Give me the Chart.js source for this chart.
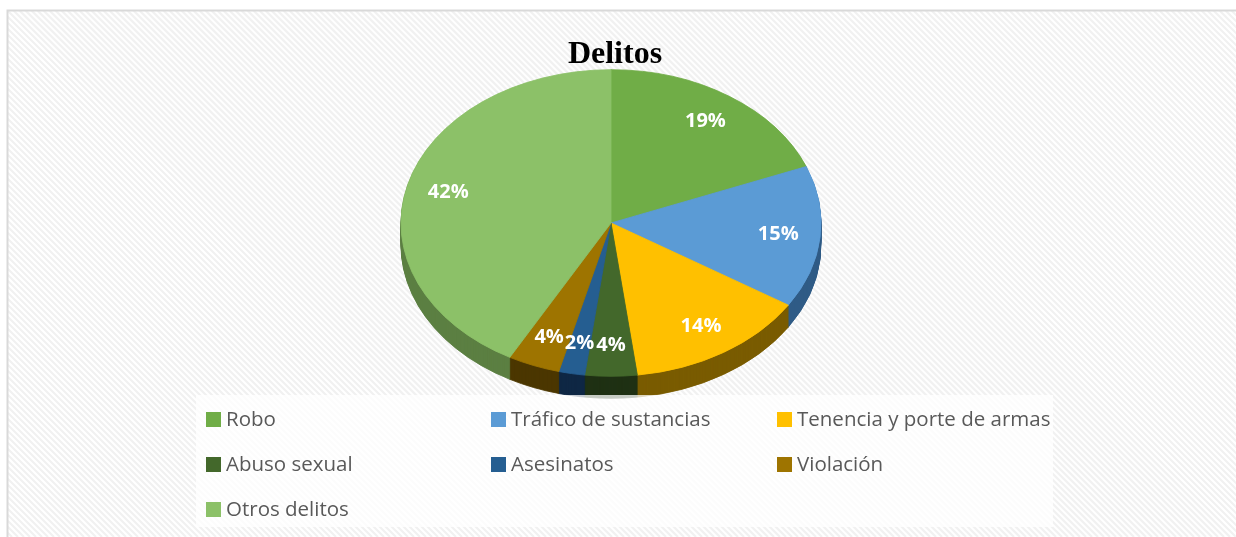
<!DOCTYPE html>
<html>
<head>
<meta charset="utf-8">
<script src="https://cdn.jsdelivr.net/npm/chart.js@4.4.0/dist/chart.umd.min.js"></script>
<style>
html, body { margin: 0; padding: 0; background: #fff; }
#wrap { width: 1236px; height: 537px; }
</style>
</head>
<body>
<div id="wrap"><canvas id="myChart" width="1236" height="537"></canvas></div>
<script>
// data
const categories = ["Robo", "Tráfico de sustancias", "Tenencia y porte de armas", "Abuso sexual", "Asesinatos", "Violación", "Otros delitos"];
const percentages = [19, 15, 14, 4, 2, 4, 42];
const sliceColors = ["#70AD47", "#5B9BD5", "#FFC000", "#43682B", "#255E91", "#9E7400", "#8CC168"];
const sideColors = ["#40652a", "#2f5c86", "#7a5c00", "#1f3114", "#0f2744", "#4b3700", "#5c7f42"];

// look of the tilted pie
const PIE_CX = 611;
const PIE_CY = 223;
const TILT = 0.73;
const DEPTH = 22;

function drawTilted(ctx, arc, d, colors) {
    ctx.save();
    ctx.translate(PIE_CX - arc.x, PIE_CY + d);
    ctx.scale(1, TILT);
    ctx.translate(0, -arc.y);
    let orig = arc.options;
    if (colors) {
        arc.options = Object.assign(Object.create(orig), {backgroundColor: colors, borderColor: colors});
    }
    arc.draw(ctx);
    arc.options = orig;
    ctx.restore();
}

const backgroundPlugin = {
    id: 'background',
    beforeDraw(chart) {
        const ctx = chart.ctx;
        ctx.save();
        ctx.fillStyle = '#ffffff';
        ctx.fillRect(0, 0, chart.width, chart.height);
        // diagonal stripes inside the frame
        ctx.beginPath();
        ctx.rect(8, 11, chart.width, chart.height);
        ctx.clip();
        ctx.strokeStyle = '#f1f1f1';
        ctx.lineWidth = 2.2;
        for (let k = -chart.height; k < chart.width; k += 6) {
            ctx.beginPath();
            ctx.moveTo(k, 0);
            ctx.lineTo(k + chart.height, chart.height);
            ctx.stroke();
        }
        ctx.restore();
        ctx.save();
        ctx.strokeStyle = '#d9d9d9';
        ctx.lineWidth = 2;
        ctx.strokeRect(7.5, 10.5, chart.width + 20, chart.height + 20);
        ctx.restore();
    }
};

const pie3dPlugin = {
    id: 'pie3d',
    beforeDatasetsDraw(chart) {
        const ctx = chart.ctx;
        const arcs = chart.getDatasetMeta(0).data;
        // side walls
        for (let d = DEPTH; d >= 1; d--) {
            arcs.forEach((arc, i) => drawTilted(ctx, arc, d, sideColors[i]));
        }
        // top face
        arcs.forEach(arc => drawTilted(ctx, arc, 0, null));
        return false;
    },
    afterDraw(chart) {
        const ctx = chart.ctx;
        const arcs = chart.getDatasetMeta(0).data;
        // percentage labels
        ctx.save();
        ctx.fillStyle = '#ffffff';
        ctx.font = 'bold 20px "Open Sans"';
        ctx.textAlign = 'center';
        ctx.textBaseline = 'middle';
        arcs.forEach((arc, i) => {
            let mid = (arc.startAngle + arc.endAngle) / 2;
            let r = arc.outerRadius * 0.8;
            let x = PIE_CX + Math.cos(mid) * r;
            let y = PIE_CY + TILT * Math.sin(mid) * r;
            ctx.fillText(percentages[i] + '%', x, y);
        });
        ctx.restore();

        // legend box
        ctx.save();
        ctx.fillStyle = 'rgba(255,255,255,0.75)';
        ctx.fillRect(196, 395, 857, 132);
        const colX = [206, 491, 777];
        const rowY = [419, 464, 509];
        ctx.font = '20.5px "Open Sans"';
        ctx.textBaseline = 'middle';
        ctx.textAlign = 'left';
        chart.data.labels.forEach((label, i) => {
            let x = colX[i % 3];
            let y = rowY[Math.floor(i / 3)];
            ctx.fillStyle = chart.data.datasets[0].backgroundColor[i];
            ctx.fillRect(x, y - 7, 15, 15);
            ctx.fillStyle = '#595959';
            ctx.fillText(label, x + 20, y + 1);
        });
        ctx.restore();
    }
};

var ctx = document.getElementById("myChart").getContext('2d');
var myChart = new Chart(ctx, {
    type: 'pie',
    data: {
        labels: categories,
        datasets: [{
            data: percentages,
            backgroundColor: sliceColors,
            borderColor: sliceColors,
            borderWidth: 1
        }]
    },
    options: {
        responsive: false,
        animation: false,
        devicePixelRatio: 1,
        radius: 210,
        layout: {padding: {top: 26, right: 6, bottom: 40, left: 0}},
        plugins: {
            legend: {display: false},
            tooltip: {enabled: false},
            title: {
                display: true,
                text: 'Delitos',
                color: '#000000',
                font: {family: '"Liberation Serif"', size: 32, weight: 'bold'},
                padding: {top: 10, bottom: 10}
            }
        }
    },
    plugins: [backgroundPlugin, pie3dPlugin]
});
</script>
</body>
</html>
